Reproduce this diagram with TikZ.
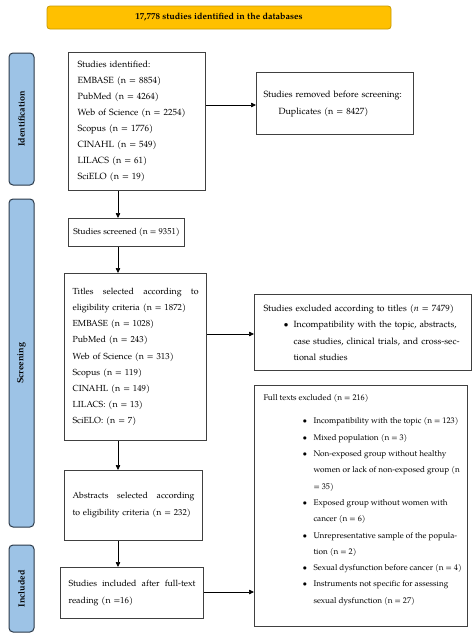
\documentclass[tikz,border=0pt]{standalone}
\usepackage{fontspec}
\setmainfont{TeX Gyre Pagella}
\usetikzlibrary{arrows.meta}
\definecolor{bannerfill}{HTML}{FFC000}
\definecolor{bannerline}{HTML}{C99A00}
\definecolor{labfill}{HTML}{9DC3E6}
\definecolor{labline}{HTML}{2B3A4A}
\definecolor{boxline}{HTML}{404040}
\newcommand{\bitem}[1]{\mbox{\hspace*{39pt}\makebox[11pt][l]{\textbullet}#1}}
\newcommand{\bcont}[1]{\mbox{\hspace*{50pt}#1}}
\begin{document}
\begin{tikzpicture}[x=1pt,y=-1pt,
  font=\fontsize{9}{16}\selectfont,
  box/.style={draw=boxline, line width=1.1pt, anchor=north west, inner xsep=8pt, inner ysep=0pt, align=left},
  arr/.style={-{Triangle[length=5pt,width=4.5pt]}, line width=0.7pt},
  lab/.style={draw=labline, fill=labfill, line width=1pt, rounded corners=4pt, rotate=90, inner sep=0pt,
    font=\fontsize{9}{11}\selectfont\bfseries},
  bannerbox/.style={draw=bannerline, fill=bannerfill, line width=0.8pt, rounded corners=3pt, inner sep=0pt,
    font=\fontsize{9}{11}\selectfont\bfseries}]
\useasboundingbox (0,0) rectangle (474,637);
\fill[white] (0,0) rectangle (474,637);

% banner
\node[bannerbox, minimum width=344pt, minimum height=23pt] (top) at (219,17.5) {17,778 studies identified in the databases};

% side labels
\node[lab, minimum width=132pt, minimum height=25pt] (idlab) at (21.5,119) {Identification};
\node[lab, minimum width=328pt, minimum height=25pt] (scrlab) at (21.5,363) {Screening};
\node[lab, minimum width=87pt, minimum height=25pt] (inclab) at (21.5,588.5) {Included};

% boxes
\node[box, inner xsep=9pt, text width=119pt, minimum width=137pt, minimum height=138pt] (ident) at (68,52)
  {Studies identified:\\EMBASE (n = 8854)\\PubMed (n = 4264)\\Web of Science (n = 2254)\\Scopus (n = 1776)\\CINAHL (n = 549)\\LILACS (n = 61)\\SciELO (n = 19)};

\node[box, inner xsep=7pt, text width=143pt, minimum width=157pt, minimum height=62pt, font=\fontsize{9}{17}\selectfont] (removed) at (256,72)
  {\mbox{Studies removed before screening:}\\\hspace*{15pt}Duplicates (n = 8427)};

\node[box, inner xsep=3pt, minimum width=116pt, minimum height=28pt, font=\fontsize{8.6}{16}\selectfont] (screened) at (68,218) {Studies screened (n = 9351)};

\node[box, text width=126pt, minimum width=142pt, minimum height=167pt, font=\fontsize{8.8}{16.2}\selectfont] (titles) at (64,273)
  {\hbox to 126pt{Titles\hfill selected\hfill according\hfill to}\\\mbox{eligibility criteria (n = 1872)}\\EMBASE (n = 1028)\\PubMed (n = 243)\\Web of Science (n = 313)\\Scopus (n = 119)\\CINAHL (n = 149)\\LILACS: (n = 13)\\SciELO: (n = 7)};

\node[box, inner xsep=9pt, text width=199pt, minimum width=217pt, minimum height=76pt, font=\fontsize{9}{16.5}\selectfont] (exclT) at (254,294)
  {\mbox{Studies excluded according to titles (\textit{n} = 7479)}\\
   \mbox{\hspace*{20pt}\makebox[10pt][l]{\textbullet}Incompatibility with the topic, abstracts,}\\
   \mbox{\hspace*{30pt}case studies, clinical trials, and cross-sec-}\\
   \hspace*{30pt}tional studies};

\node[box, text width=122pt, minimum width=138pt, minimum height=70pt, font=\fontsize{8.7}{17}\selectfont] (abstracts) at (64,470)
  {\hbox to 122pt{Abstracts\hfill selected\hfill according}\\\mbox{to eligibility criteria (n = 232)}};

\node[box, text width=127pt, minimum width=143pt, minimum height=51pt, font=\fontsize{8.8}{17}\selectfont] (included) at (60,567)
  {\hbox to 127pt{Studies\hfill included\hfill after\hfill full-text}\\reading (n =16)};

\node[box, inner sep=0pt, minimum width=213pt, minimum height=241pt, font=\fontsize{8.2}{16.3}\selectfont] (full) at (254,385)
  {\begin{minipage}[c][235pt][t]{205pt}\setlength{\parindent}{0pt}\leftskip=5pt
   \vspace*{6pt}\mbox{Full texts excluded (n = 216)}\\[7pt]
   \bitem{Incompatibility with the topic (n = 123)}\\
   \bitem{Mixed population (n = 3)}\\
   \bitem{Non-exposed group without healthy}\\
   \bcont{women or lack of non-exposed group (n}\\
   \bcont{= 35)}\\
   \bitem{Exposed group without women with}\\
   \bcont{cancer (n = 6)}\\
   \bitem{Unrepresentative sample of the popula-}\\
   \bcont{tion (n = 2)}\\
   \bitem{Sexual dysfunction before cancer (n = 4)}\\
   \bitem{Instruments not specific for assessing}\\
   \bcont{sexual dysfunction (n = 27)}
   \end{minipage}};

% connectors
\coordinate (ax) at (118,0);
\coordinate (ay1) at (0,105);
\coordinate (ay2) at (0,334);
\coordinate (ay3) at (0,592);
\draw[arr] (ident.south -| ax) -- (screened.north -| ax);
\draw[arr] (screened.south -| ax) -- (titles.north -| ax);
\draw[arr] (titles.south -| ax) -- (abstracts.north -| ax);
\draw[arr] (abstracts.south -| ax) -- (included.north -| ax);
\draw[arr] (ident.east |- ay1) -- (removed.west |- ay1);
\draw[arr] (titles.east |- ay2) -- (exclT.west |- ay2);
\draw[arr] (included.east |- ay3) -- (full.west |- ay3);
\end{tikzpicture}
\end{document}
